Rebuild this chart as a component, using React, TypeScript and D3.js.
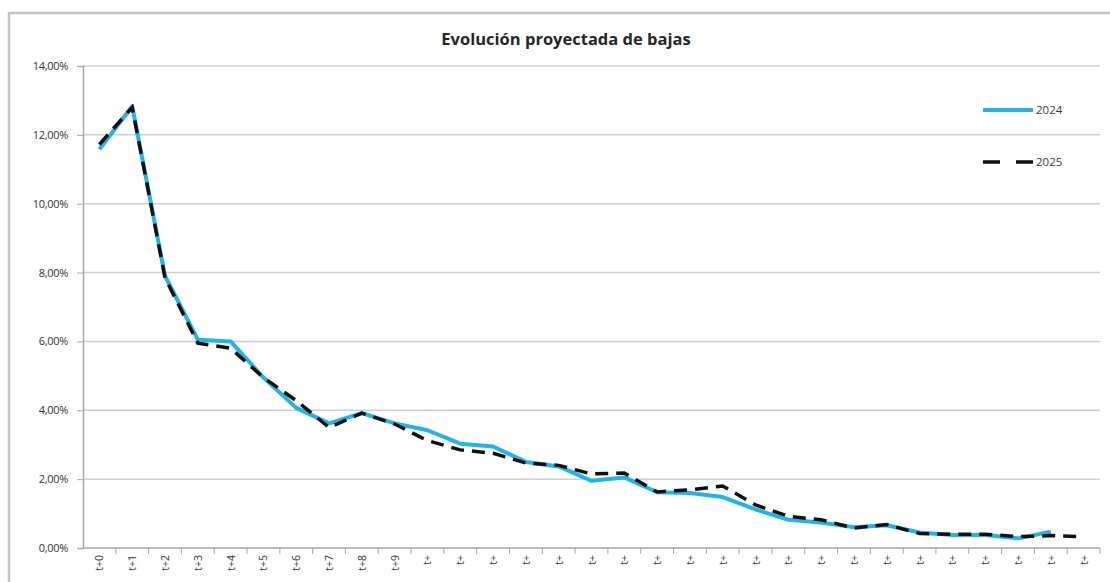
import * as d3 from 'd3';
import {useEffect, useRef} from 'react';

const categories = [
    't+0', 't+1', 't+2', 't+3', 't+4', 't+5', 't+6', 't+7', 't+8', 't+9',
    't+10', 't+11', 't+12', 't+13', 't+14', 't+15', 't+16', 't+17', 't+18', 't+19',
    't+20', 't+21', 't+22', 't+23', 't+24', 't+25', 't+26', 't+27', 't+28', 't+29', 't+30',
];

// percentages
const series2024 = [
    11.58, 12.83, 7.9, 6.05, 6.0, 4.95, 4.07, 3.62, 3.92, 3.62,
    3.42, 3.03, 2.95, 2.5, 2.37, 1.95, 2.05, 1.62, 1.6, 1.48,
    1.12, 0.82, 0.74, 0.6, 0.66, 0.45, 0.38, 0.38, 0.28, 0.47, null,
];
const series2025 = [
    11.72, 12.8, 7.85, 5.95, 5.8, 4.95, 4.28, 3.5, 3.92, 3.6,
    3.12, 2.85, 2.75, 2.47, 2.4, 2.15, 2.18, 1.63, 1.69, 1.8,
    1.25, 0.92, 0.82, 0.58, 0.68, 0.42, 0.4, 0.4, 0.33, 0.36, 0.33,
];
const yTicks = [0, 2, 4, 6, 8, 10, 12, 14];

const seriesNames = ['2024', '2025'];

export default function App() {
    const ref = useRef<SVGSVGElement>(null);
    const width = 1110;
    const height = 582;
    const margins = {top: 66, right: 10, bottom: 34, left: 83};

    useEffect(() => {
        const svg = d3.select(ref.current);
        svg.selectAll('*').remove();
        const font = '"Open Sans", Lato, sans-serif';

        svg.append('rect').attr('width', width).attr('height', height).attr('fill', '#fff');

        // outer chart frame
        svg.append('path')
            .attr('d', `M9,${height} V13 H${width}`)
            .attr('fill', 'none')
            .attr('stroke', '#c4c4c4')
            .attr('stroke-width', 2.5);

        const xScale = d3
            .scaleBand<string>()
            .domain(categories)
            .range([margins.left, width - margins.right])
            .padding(0);

        const yScale = d3
            .scaleLinear()
            .domain([0, 14])
            .range([height - margins.bottom, margins.top]);

        // gridlines
        svg.append('g')
            .selectAll('line')
            .data(yTicks.slice(1))
            .join('line')
            .attr('x1', margins.left)
            .attr('x2', width - margins.right)
            .attr('y1', (d) => yScale(d))
            .attr('y2', (d) => yScale(d))
            .attr('stroke', '#cfcfcf')
            .attr('stroke-width', 1.5);

        // y axis
        const yAxis = d3
            .axisLeft(yScale)
            .tickValues(yTicks)
            .tickSize(6)
            .tickPadding(9)
            .tickFormat((d) => `${(+d).toFixed(2).replace('.', ',')}%`);
        const gy = svg.append('g').attr('transform', `translate(${margins.left},0)`).call(yAxis);
        gy.select('.domain').attr('stroke', '#a6a6a6').attr('stroke-width', 1.5);
        gy.selectAll('.tick line').attr('stroke', '#a6a6a6');
        gy.selectAll('text')
            .attr('font-family', font)
            .attr('font-size', 11)
            .attr('letter-spacing', -0.3)
            .attr('fill', '#333');

        // x axis
        const gx = svg
            .append('g')
            .attr('transform', `translate(0,${height - margins.bottom})`);
        gx.append('line')
            .attr('x1', margins.left)
            .attr('x2', width - margins.right)
            .attr('stroke', '#a6a6a6')
            .attr('stroke-width', 1.5);
        gx.selectAll('.tk')
            .data(categories)
            .join('line')
            .attr('x1', (d) => (xScale(d) as number) + xScale.bandwidth())
            .attr('x2', (d) => (xScale(d) as number) + xScale.bandwidth())
            .attr('y1', 0)
            .attr('y2', 6)
            .attr('stroke', '#a6a6a6');
        gx.selectAll('text')
            .data(categories)
            .join('text')
            .attr('transform', (d) => {
                const x = (xScale(d) as number) + xScale.bandwidth() / 2 + 4;
                return `translate(${x},7) rotate(-90)`;
            })
            .attr('text-anchor', 'end')
            .attr('font-family', font)
            .attr('font-size', 10.5)
            .attr('fill', '#333')
            // long labels are clipped by the category width
            .text((d) => (d.length > 3 ? d.slice(0, 2) : d));

        const line = d3
            .line<number | null>()
            .defined((d) => d !== null)
            .x((_, i) => (xScale(categories[i]) as number) + xScale.bandwidth() / 2)
            .y((d) => yScale(d as number));

        svg.append('path')
            .attr('d', line(series2024))
            .attr('fill', 'none')
            .attr('stroke', '#22b4e6')
            .attr('stroke-width', 4)
            .attr('stroke-linejoin', 'round');

        svg.append('path')
            .attr('d', line(series2025))
            .attr('fill', 'none')
            .attr('stroke', '#111')
            .attr('stroke-width', 3.5)
            .attr('stroke-dasharray', '13,8');

        // legend
        const legend = svg.append('g').attr('transform', 'translate(983,110)');
        seriesNames.forEach((name, i) => {
            const g = legend.append('g').attr('transform', `translate(0,${i * 52})`);
            g.append('line')
                .attr('x1', 0)
                .attr('x2', 50)
                .attr('stroke', i === 0 ? '#22b4e6' : '#111')
                .attr('stroke-width', i === 0 ? 4 : 3.5)
                .attr('stroke-dasharray', i === 0 ? null : '17,16');
            g.append('text')
                .attr('x', 53)
                .attr('y', 4)
                .attr('font-family', font)
                .attr('font-size', 11.5)
                .attr('fill', '#3a3a3a')
                .text(name);
        });

        svg.append('text')
            .attr('x', 566)
            .attr('y', 45)
            .attr('text-anchor', 'middle')
            .attr('font-family', font)
            .attr('font-weight', 'bold')
            .attr('font-size', 16.5)
            .attr('fill', '#262626')
            .text('Evolución proyectada de bajas');
    }, []);

    return (
        <svg
            ref={ref}
            width={width}
            height={height}
            style={{position: 'absolute', left: 0, top: 0}}
        ></svg>
    );
}
